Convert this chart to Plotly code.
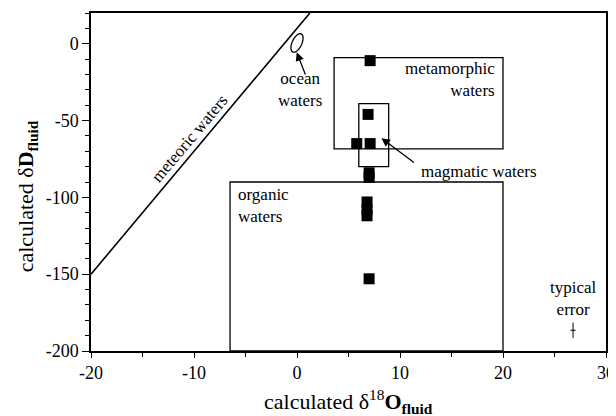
import numpy as np
import plotly.graph_objects as go

# ---- data ----
d18o = [7.1, 6.9, 5.8, 7.1, 7.0, 7.0, 6.8, 6.8, 6.8, 7.0]
dD = [-11, -46, -65, -65, -84, -87, -103, -108, -112, -153]

mwl_x = [-20, 1.25]          # meteoric water line dD = 8*d18O + 10
mwl_y = [-150, 20]

metamorphic_box = dict(x0=3.6, x1=20, y0=-68.5, y1=-9)
magmatic_box = dict(x0=6.0, x1=8.9, y0=-80, y1=-39)
organic_box = dict(x0=-6.5, x1=20, y0=-200, y1=-90)

err_x, err_y = 26.8, -186.5
err_dx, err_dy = 0.25, 5

ocean_center = (0.0, 0.5)

x_ticks = [-20, -10, 0, 10, 20, 30]
x_ticktext = ["-20", "-10", "0", "10", "20", "30"]
y_ticks = [-200, -150, -100, -50, 0]
y_ticktext = ["-200", "-150", "-100", "-50", "0"]

FONT = "Liberation Serif, Times New Roman, serif"

fig = go.Figure()

fig.add_trace(go.Scatter(x=mwl_x, y=mwl_y, mode="lines",
                         line=dict(color="black", width=1.6), hoverinfo="skip"))

fig.add_trace(go.Scatter(x=d18o, y=dD, mode="markers",
                         marker=dict(symbol="square", size=11, color="black",
                                     line=dict(width=0))))

fig.add_trace(go.Scatter(x=[err_x], y=[err_y], mode="markers",
                         marker=dict(size=0.1, color="black"),
                         error_x=dict(type="constant", value=err_dx, color="black",
                                      thickness=1, width=0),
                         error_y=dict(type="constant", value=err_dy, color="black",
                                      thickness=1, width=0)))

# boxes
for b in (metamorphic_box, magmatic_box, organic_box):
    fig.add_shape(type="rect", xref="x", yref="y", line=dict(color="black", width=1.3),
                  fillcolor="rgba(0,0,0,0)", **b)

# ocean water ellipse (tilted), defined in screen-proportional units
px_per_x = 515 / 50
px_per_y = 338.3 / 220
a, bsem, th = 10.0, 4.8, np.deg2rad(65)
t = np.linspace(0, 2 * np.pi, 60)
ex = ocean_center[0] + (a * np.cos(t) * np.cos(th) - bsem * np.sin(t) * np.sin(th)) / px_per_x
ey = ocean_center[1] + (a * np.cos(t) * np.sin(th) + bsem * np.sin(t) * np.cos(th)) / px_per_y
path = "M " + " L ".join(f"{xx:.3f},{yy:.3f}" for xx, yy in zip(ex, ey)) + " Z"
fig.add_shape(type="path", path=path, xref="x", yref="y",
              line=dict(color="black", width=1.3))

tf = dict(family=FONT, size=17, color="black")
ann = [
    dict(x=-10.4, y=-62, text="meteoric waters", textangle=-50, showarrow=False),
    dict(x=0.3, y=-30, text="ocean<br>waters", showarrow=False, align="center"),
    dict(x=19.4, y=-23.5, text="metamorphic<br>waters", showarrow=False,
         xanchor="right", align="right"),
    dict(x=-5.9, y=-105, text="organic<br>waters", showarrow=False,
         xanchor="left", align="left"),
    dict(x=11.8, y=-83, text="magmatic waters", showarrow=False, xanchor="left"),
    dict(x=err_x, y=-166, text="typical<br>error", showarrow=False, align="center"),
    dict(x=-0.03, y=-5.6, ax=0.87, ay=-21, axref="x", ayref="y", text="",
         showarrow=True, arrowhead=2, arrowsize=1.3, arrowwidth=1.3, arrowcolor="black"),
    dict(x=8.2, y=-61.5, ax=11.5, ay=-78, axref="x", ayref="y", text="",
         showarrow=True, arrowhead=2, arrowsize=1.3, arrowwidth=1.3, arrowcolor="black"),
]
for an in ann:
    an.setdefault("font", tf)
    an.setdefault("xref", "x")
    an.setdefault("yref", "y")
    fig.add_annotation(**an)

# axis titles as annotations for exact placement
title_font = dict(family=FONT, size=22, color="black")
fig.add_annotation(xref="paper", yref="paper", x=0.5, y=-0.097, xanchor="center",
                   yanchor="top", showarrow=False, font=title_font,
                   text="calculated δ<sup>18</sup><b>O</b><sub><b>fluid</b></sub>")
fig.add_annotation(xref="paper", yref="paper", x=-0.124, y=0.458, xanchor="center",
                   yanchor="middle", showarrow=False, font=title_font, textangle=-90,
                   text="calculated δ<b>D</b><sub><b>fluid</b></sub>")

axis_common = dict(showgrid=False, zeroline=False, showline=True, linecolor="black",
                   linewidth=1.5, mirror=True, ticks="outside",
                   tickwidth=1, tickcolor="black", automargin=False,
                   tickfont=dict(family=FONT, size=18, color="black"))

fig.update_xaxes(range=[-20, 30], tickvals=x_ticks, ticktext=x_ticktext, ticklen=5,
                 minor=dict(dtick=5, ticks="outside", ticklen=4, tickcolor="black"),
                 **axis_common)
fig.update_yaxes(range=[-200, 20], tickvals=y_ticks, ticktext=y_ticktext, ticklen=7,
                 minor=dict(dtick=10, ticks="outside", ticklen=4, tickcolor="black"),
                 **axis_common)

fig.update_layout(width=608, height=408, showlegend=False,
                  margin=dict(l=83, r=10, t=5, b=65),
                  plot_bgcolor="white", paper_bgcolor="white")

fig.write_html("out.html")
